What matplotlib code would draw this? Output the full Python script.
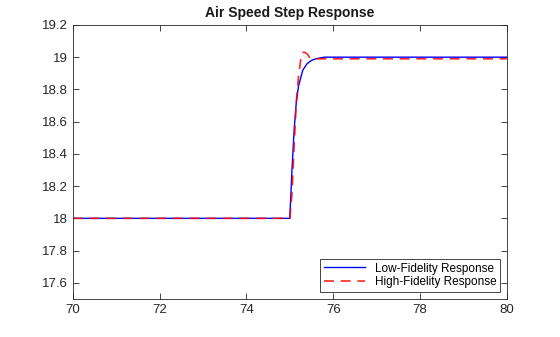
import matplotlib.pyplot as plt

# Step response samples (time in s, air speed)
t_low = [70.0, 75.0, 75.05, 75.1, 75.15, 75.2, 75.3, 75.4, 75.5, 75.6, 75.8, 80.0]
v_low = [18.0, 18.0, 18.3, 18.55, 18.72, 18.82, 18.92, 18.96, 18.98, 18.99, 19.0, 19.0]

t_high = [70.0, 75.0, 75.05, 75.1, 75.15, 75.2, 75.25, 75.3, 75.35, 75.4, 75.45, 75.5, 80.0]
v_high = [18.0, 18.0, 18.15, 18.45, 18.72, 18.88, 18.98, 19.03, 19.03, 19.02, 19.0, 18.99, 18.99]

xticks = [70, 72, 74, 76, 78, 80]
yticks = [17.6, 17.8, 18, 18.2, 18.4, 18.6, 18.8, 19, 19.2]

plt.rcParams['font.family'] = ['Liberation Sans', 'DejaVu Sans']

fig = plt.figure(figsize=(5.6, 3.37), dpi=100)
ax = fig.add_axes([0.130, 0.113, 0.775, 0.813])

ax.plot(t_low, v_low, color='blue', linewidth=1.0, label='Low-Fidelity Response')
ax.plot(t_high, v_high, color='red', linestyle=(0, (6, 4)), linewidth=1.2,
        alpha=0.85, label='High-Fidelity Response')

ax.set_xlim(70, 80)
ax.set_ylim(17.5, 19.2)
ax.set_xticks(xticks)
ax.set_xticklabels([str(x) for x in xticks])
ax.set_yticks(yticks)
ax.set_yticklabels(['%g' % y for y in yticks])
ax.tick_params(direction='in', top=True, right=True, length=4, width=0.6,
               labelsize=9.5, colors='#262626')
for s in ax.spines.values():
    s.set_linewidth(0.6)
    s.set_color('#262626')

ax.set_title('Air Speed Step Response', fontsize=10, fontweight='bold', color='#1a1a1a', pad=6)

leg = ax.legend(loc='lower right', fontsize=8.5, fancybox=False, framealpha=1,
                edgecolor='#262626', borderpad=0.3, handlelength=3.5,
                labelspacing=0.15, borderaxespad=0.6)
leg.get_frame().set_linewidth(0.6)

fig.savefig('out.png', dpi=100)
